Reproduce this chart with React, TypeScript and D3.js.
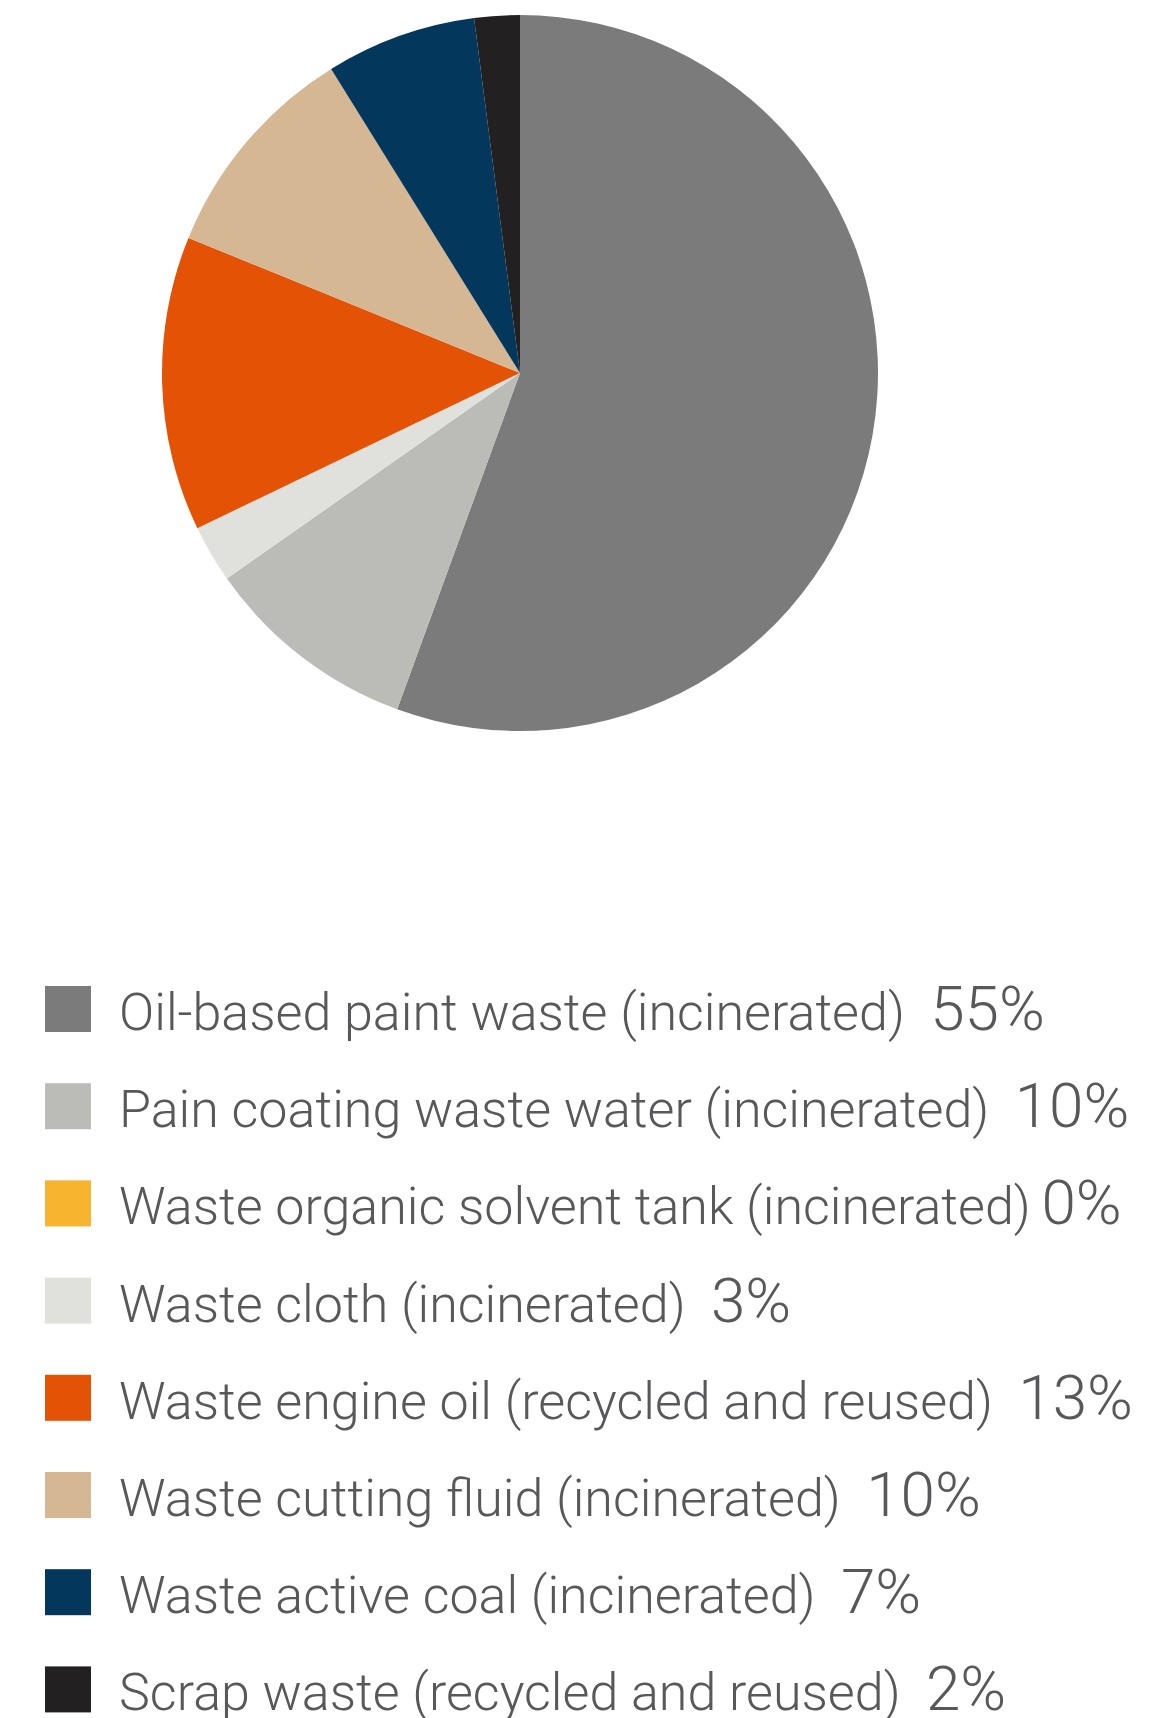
import React, { useEffect } from "react";
import * as d3 from "d3";

const categories = [
  "Oil-based paint waste (incinerated)",
  "Pain coating waste water (incinerated)",
  "Waste organic solvent tank (incinerated)",
  "Waste cloth (incinerated)",
  "Waste engine oil (recycled and reused)",
  "Waste cutting fluid (incinerated)",
  "Waste active coal (incinerated)",
  "Scrap waste (recycled and reused)",
];
const values = [55.6, 9.7, 0, 2.6, 13.3, 10.0, 6.8, 2.05];
const pctLabels = ["55%", "10%", "0%", "3%", "13%", "10%", "7%", "2%"];
const gaps = ["  ", "  ", "\u2009", "  ", "  ", "  ", "  ", "  "];
const colors = ["#7a7b7a", "#bbbcb7", "#f6b42f", "#e0e1dc", "#e35205", "#d5b794", "#03375b", "#222021"];

const W = 1167;
const H = 1718;

export default function App() {
  useEffect(() => {
    document.body.style.margin = "0";
  }, []);
  const cx = 520;
  const cy = 373;
  const r = 358;
  const pie = d3.pie<number>().sort(null).value((d) => d).startAngle(0).endAngle(2 * Math.PI);
  const arcs = pie(values);
  const arcGen = d3.arc<d3.PieArcDatum<number>>().innerRadius(0).outerRadius(r);
  const legendY = d3.scaleBand<number>().domain(d3.range(categories.length)).range([986, 986 + 97.2 * 8]).paddingInner(0);
  return (
    <svg width={W} height={H} style={{ display: "block" }}>
      <rect width={W} height={H} fill="#fff" />
      <g transform={`translate(${cx},${cy})`}>
        {arcs.map((a, i) => (
          <path key={i} d={arcGen(a) || ""} fill={colors[i]} />
        ))}
      </g>
      {categories.map((c, i) => {
        const y = legendY(i)!;
        return (
          <g key={i}>
            <rect x={45} y={y} width={46} height={46} fill={colors[i]} />
            <text
              x={119}
              y={y + 44}
              fontFamily="Roboto, 'Liberation Sans', sans-serif"
              fontWeight={300}
              fontSize={52}
              fill="#58585a"
              style={{ whiteSpace: "pre" }}
            >
              {c + gaps[i]}
              <tspan fontSize={62}>{pctLabels[i]}</tspan>
            </text>
          </g>
        );
      })}
    </svg>
  );
}
